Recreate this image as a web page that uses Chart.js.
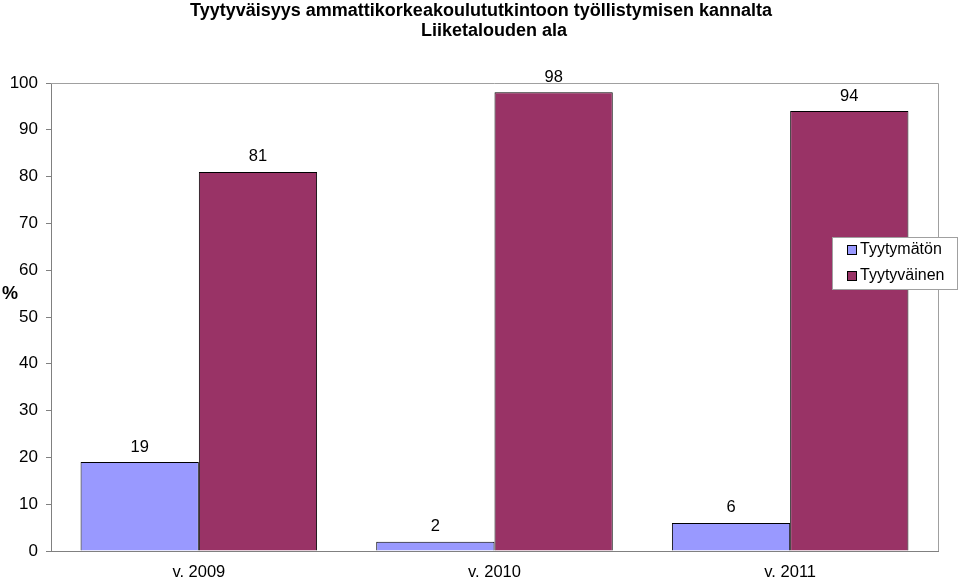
<!DOCTYPE html>
<meta charset="UTF-8">
<title>Tyytyväisyys</title>
<script src="https://cdn.jsdelivr.net/npm/chart.js"></script>
<style>
  html, body { margin: 0; padding: 0; background: #fff; }
  #wrap { width: 960px; height: 577px; }
</style>
<body>
<div id="wrap"><canvas id="satChart" width="960" height="577"></canvas></div>
<script>
// data
var years = ['v. 2009', 'v. 2010', 'v. 2011'];
var unhappy = [19, 2, 6];      // Tyytymätön
var happy = [81, 98, 94];      // Tyytyväinen
var titleLines = ['Tyytyväisyys ammattikorkeakoulututkintoon työllistymisen kannalta', 'Liiketalouden ala'];
var yTicks = [0, 10, 20, 30, 40, 50, 60, 70, 80, 90, 100];

var FONT = '"Liberation Sans", Arial, sans-serif';

// title, frame, value labels, "%" and legend box
var extras = {
    id: 'extras',
    afterDraw: function(chart){
        var ctx = chart.ctx, a = chart.chartArea;
        ctx.save();
        // light frame on top and right
        ctx.strokeStyle = '#a0a0a0';
        ctx.lineWidth = 1;
        ctx.beginPath();
        ctx.moveTo(a.left, a.top + 0.5);
        ctx.lineTo(a.right + 0.5, a.top + 0.5);
        ctx.lineTo(a.right + 0.5, a.bottom);
        ctx.stroke();

        ctx.fillStyle = '#000';
        ctx.textAlign = 'center';
        ctx.textBaseline = 'middle';
        ctx.font = 'bold 18px ' + FONT;
        ctx.fillText(titleLines[0], 481, 11);
        ctx.fillText(titleLines[1], 494, 31);

        // value labels
        ctx.font = '16.5px ' + FONT;
        chart.data.datasets.forEach(function(ds, i){
            chart.getDatasetMeta(i).data.forEach(function(bar, j){
                ctx.fillText(ds.data[j], bar.x, bar.y - 15);
            });
        });

        // % axis label
        ctx.font = 'bold 18px ' + FONT;
        ctx.fillText('%', 10, 294);

        // legend
        ctx.fillStyle = '#fff';
        ctx.fillRect(832, 237, 126, 53);
        ctx.strokeStyle = '#a0a0a0';
        ctx.strokeRect(832.5, 237.5, 125, 52);
        ctx.textAlign = 'left';
        ctx.font = '16px ' + FONT;
        chart.data.datasets.forEach(function(ds, i){
            var y = 250 + i * 26;
            ctx.fillStyle = ds.backgroundColor;
            ctx.fillRect(847, y - 5, 10, 10);
            ctx.strokeStyle = '#000';
            ctx.strokeRect(847.5, y - 4.5, 9, 9);
            ctx.fillStyle = '#000';
            ctx.fillText(ds.label, 860, y);
        });
        ctx.restore();
    }
};

var satChart = new Chart(document.getElementById('satChart').getContext('2d'), {
    type: 'bar',
    data: {
        labels: years,
        datasets: [{
            label: 'Tyytymätön',
            data: unhappy,
            backgroundColor: '#9999FF',
            borderColor: '#000',
            borderWidth: 1
        }, {
            label: 'Tyytyväinen',
            data: happy,
            backgroundColor: '#993366',
            borderColor: '#000',
            borderWidth: 1
        }]
    },
    plugins: [extras],
    options: {
        responsive: false,
        animation: false,
        layout: { padding: { top: 83, right: 22, left: 0, bottom: 0 } },
        datasets: { bar: { categoryPercentage: 0.8, barPercentage: 1 } },
        plugins: { legend: { display: false }, tooltip: { enabled: false } },
        scales: {
            x: {
                grid: { display: false, drawTicks: false },
                border: { color: '#808080' },
                ticks: { color: '#000', font: { size: 16.5, family: FONT }, padding: 12 },
                afterFit: function(s){ s.height = 26; }
            },
            y: {
                min: 0,
                max: 100,
                afterBuildTicks: function(s){ s.ticks = yTicks.map(function(v){ return { value: v }; }); },
                grid: { drawOnChartArea: false, tickLength: 5, color: '#808080' },
                border: { color: '#808080' },
                ticks: { color: '#000', font: { size: 17, family: FONT }, padding: 8 },
                afterFit: function(s){ s.width = 51; }
            }
        }
    }
});
</script>
</body>
